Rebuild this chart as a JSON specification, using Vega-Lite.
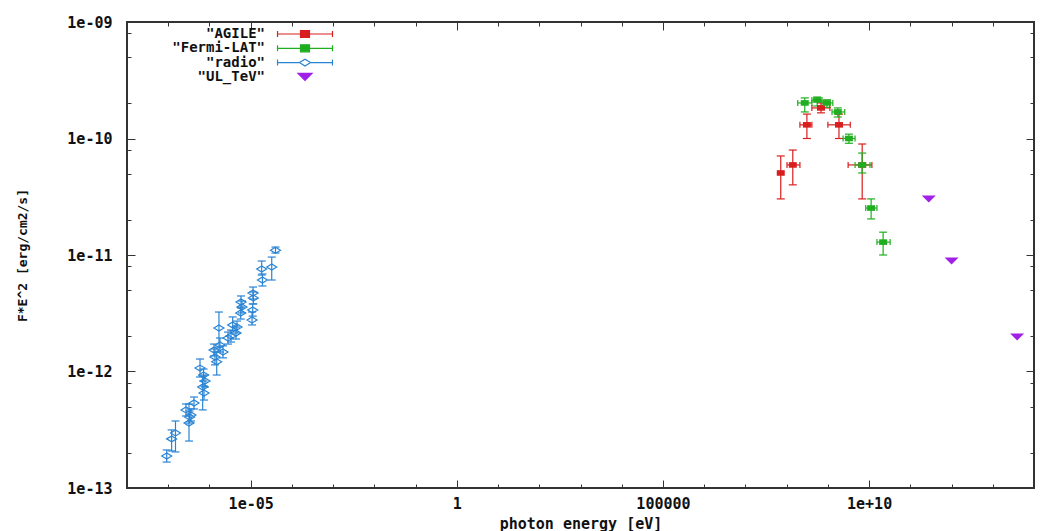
{
  "$schema": "https://vega.github.io/schema/vega-lite/v6.json",
  "width": 907,
  "height": 466,
  "autosize": "none",
  "padding": {"left": 127, "top": 22, "right": 25, "bottom": 43},
  "background": "white",
  "data": {
    "values": [
      {"set": "\"AGILE\"", "E": 7.2e7, "F": 5.06e-11, "Flo": 3.03e-11, "Fhi": 7.08e-11},
      {"set": "\"AGILE\"", "E": 1.41e8, "F": 5.93e-11, "Flo": 4.0e-11, "Fhi": 7.96e-11, "Elo": 1.02e8, "Ehi": 2.1e8},
      {"set": "\"AGILE\"", "E": 3.1e8, "F": 1.31e-10, "Flo": 1.0e-10, "Fhi": 1.62e-10, "Elo": 2.1e8, "Ehi": 4.1e8},
      {"set": "\"AGILE\"", "E": 6.8e8, "F": 1.83e-10, "Flo": 1.66e-10, "Fhi": 2.02e-10, "Elo": 4.1e8, "Ehi": 1.12e9},
      {"set": "\"AGILE\"", "E": 1.86e9, "F": 1.31e-10, "Flo": 1.0e-10, "Fhi": 1.62e-10, "Elo": 1.0e9, "Ehi": 3.5e9},
      {"set": "\"AGILE\"", "E": 6.8e9, "F": 5.93e-11, "Flo": 3.03e-11, "Fhi": 8.97e-11, "Elo": 3.1e9, "Ehi": 1.17e10},
      {"set": "\"Fermi-LAT\"", "E": 2.75e8, "F": 2.02e-10, "Flo": 1.69e-10, "Fhi": 2.23e-10, "Elo": 1.86e8, "Ehi": 4.1e8},
      {"set": "\"Fermi-LAT\"", "E": 5.5e8, "F": 2.14e-10, "Flo": 1.9e-10, "Fhi": 2.27e-10, "Elo": 4.1e8, "Ehi": 7.2e8},
      {"set": "\"Fermi-LAT\"", "E": 9.5e8, "F": 2.02e-10, "Flo": 1.85e-10, "Fhi": 2.15e-10, "Elo": 7.2e8, "Ehi": 1.32e9},
      {"set": "\"Fermi-LAT\"", "E": 1.74e9, "F": 1.69e-10, "Flo": 1.53e-10, "Fhi": 1.83e-10, "Elo": 1.26e9, "Ehi": 2.57e9},
      {"set": "\"Fermi-LAT\"", "E": 3.24e9, "F": 1.0e-10, "Flo": 9.1e-11, "Fhi": 1.09e-10, "Elo": 2.34e9, "Ehi": 4.57e9},
      {"set": "\"Fermi-LAT\"", "E": 6.8e9, "F": 5.93e-11, "Flo": 5.06e-11, "Fhi": 7.5e-11, "Elo": 4.57e9, "Ehi": 1.05e10},
      {"set": "\"Fermi-LAT\"", "E": 1.12e10, "F": 2.53e-11, "Flo": 2.04e-11, "Fhi": 3.03e-11, "Elo": 8.3e9, "Ehi": 1.55e10},
      {"set": "\"Fermi-LAT\"", "E": 2.19e10, "F": 1.29e-11, "Flo": 1.0e-11, "Fhi": 1.57e-11, "Elo": 1.55e10, "Ehi": 3.24e10},
      {"set": "\"radio\"", "E": 9.18e-8, "F": 1.88e-13, "Flo": 1.67e-13, "Fhi": 2.12e-13},
      {"set": "\"radio\"", "E": 1.21e-7, "F": 2.64e-13, "Flo": 2.08e-13, "Fhi": 3.15e-13},
      {"set": "\"radio\"", "E": 1.50e-7, "F": 2.97e-13, "Flo": 2.04e-13, "Fhi": 3.76e-13},
      {"set": "\"radio\"", "E": 2.70e-7, "F": 4.68e-13, "Flo": 4.15e-13, "Fhi": 5.26e-13},
      {"set": "\"radio\"", "E": 3.19e-7, "F": 3.61e-13, "Flo": 2.53e-13, "Fhi": 5.26e-13},
      {"set": "\"radio\"", "E": 3.56e-7, "F": 4.24e-13, "Flo": 3.76e-13, "Fhi": 4.77e-13},
      {"set": "\"radio\"", "E": 4.22e-7, "F": 5.37e-13, "Flo": 4.77e-13, "Fhi": 6.04e-13},
      {"set": "\"radio\"", "E": 3.30e-7, "F": 4.07e-13, "Flo": 3.61e-13, "Fhi": 4.58e-13},
      {"set": "\"radio\"", "E": 5.90e-7, "F": 1.07e-12, "Flo": 8.97e-13, "Fhi": 1.28e-12},
      {"set": "\"radio\"", "E": 6.85e-7, "F": 7.36e-13, "Flo": 4.68e-13, "Fhi": 9.15e-13},
      {"set": "\"radio\"", "E": 7.38e-7, "F": 6.54e-13, "Flo": 5.69e-13, "Fhi": 7.51e-13},
      {"set": "\"radio\"", "E": 7.80e-7, "F": 8.28e-13, "Flo": 7.36e-13, "Fhi": 9.33e-13},
      {"set": "\"radio\"", "E": 7.20e-7, "F": 9.33e-13, "Flo": 8.28e-13, "Fhi": 1.05e-12},
      {"set": "\"radio\"", "E": 1.29e-6, "F": 1.53e-12, "Flo": 1.36e-12, "Fhi": 1.72e-12},
      {"set": "\"radio\"", "E": 1.36e-6, "F": 1.33e-12, "Flo": 1.14e-12, "Fhi": 1.56e-12},
      {"set": "\"radio\"", "E": 1.50e-6, "F": 1.21e-12, "Flo": 9.33e-13, "Fhi": 1.47e-12},
      {"set": "\"radio\"", "E": 1.70e-6, "F": 2.36e-12, "Flo": 1.62e-12, "Fhi": 3.24e-12},
      {"set": "\"radio\"", "E": 1.80e-6, "F": 1.69e-12, "Flo": 1.47e-12, "Fhi": 1.94e-12},
      {"set": "\"radio\"", "E": 2.13e-6, "F": 1.47e-12, "Flo": 1.31e-12, "Fhi": 1.66e-12},
      {"set": "\"radio\"", "E": 2.82e-6, "F": 1.94e-12, "Flo": 1.72e-12, "Fhi": 2.18e-12},
      {"set": "\"radio\"", "E": 3.33e-6, "F": 2.02e-12, "Flo": 1.79e-12, "Fhi": 2.27e-12},
      {"set": "\"radio\"", "E": 3.66e-6, "F": 2.51e-12, "Flo": 2.23e-12, "Fhi": 2.94e-12},
      {"set": "\"radio\"", "E": 4.41e-6, "F": 2.14e-12, "Flo": 1.90e-12, "Fhi": 2.41e-12},
      {"set": "\"radio\"", "E": 4.66e-6, "F": 2.41e-12, "Flo": 2.14e-12, "Fhi": 2.71e-12},
      {"set": "\"radio\"", "E": 5.73e-6, "F": 3.18e-12, "Flo": 2.82e-12, "Fhi": 3.58e-12},
      {"set": "\"radio\"", "E": 5.82e-6, "F": 3.95e-12, "Flo": 3.51e-12, "Fhi": 4.45e-12},
      {"set": "\"radio\"", "E": 6.15e-6, "F": 3.58e-12, "Flo": 3.18e-12, "Fhi": 4.03e-12},
      {"set": "\"radio\"", "E": 1.14e-5, "F": 4.72e-12, "Flo": 4.19e-12, "Fhi": 5.31e-12},
      {"set": "\"radio\"", "E": 1.16e-5, "F": 4.28e-12, "Flo": 3.80e-12, "Fhi": 4.81e-12},
      {"set": "\"radio\"", "E": 1.12e-5, "F": 3.37e-12, "Flo": 2.99e-12, "Fhi": 3.80e-12},
      {"set": "\"radio\"", "E": 1.08e-5, "F": 2.77e-12, "Flo": 2.51e-12, "Fhi": 3.24e-12},
      {"set": "\"radio\"", "E": 1.85e-5, "F": 7.59e-12, "Flo": 6.73e-12, "Fhi": 8.88e-12},
      {"set": "\"radio\"", "E": 1.93e-5, "F": 6.10e-12, "Flo": 5.42e-12, "Fhi": 6.87e-12},
      {"set": "\"radio\"", "E": 3.24e-5, "F": 7.89e-12, "Flo": 6.10e-12, "Fhi": 9.6e-12},
      {"set": "\"radio\"", "E": 4.00e-5, "F": 1.10e-11, "Flo": 1.04e-11, "Fhi": 1.17e-11},
      {"set": "\"UL_TeV\"", "E": 2.8e11, "F": 3.03e-11},
      {"set": "\"UL_TeV\"", "E": 1.0e12, "F": 8.9e-12},
      {"set": "\"UL_TeV\"", "E": 3.9e13, "F": 1.98e-12}
    ]
  },
  "layer": [
    {
      "transform": [{"filter": "datum.Flo != null"}],
      "mark": {"type": "rule", "strokeWidth": 1.2},
      "encoding": {
        "x": {"field": "E", "type": "quantitative", "scale": {"type": "log", "domain": [1e-8, 1e14], "nice": false},
          "axis": {"orient": "bottom", "values": [1e-5, 1, 1e5, 1e10], "labelExpr": "datum.value < 1e-3 ? '1e-05' : datum.value < 10 ? '1' : datum.value < 1e7 ? '100000' : '1e+10'", "ticks": false, "domain": false, "grid": false, "labelPadding": 8, "labelBaseline": "top", "labelFlush": false, "labelOverlap": false, "title": "photon energy [eV]", "titleY": 35, "titleBaseline": "middle"}},
        "y": {"field": "Flo", "type": "quantitative", "scale": {"type": "log", "domain": [1e-13, 1e-9], "nice": false},
          "axis": {"orient": "left", "values": [1e-13, 1e-12, 1e-11, 1e-10, 1e-9], "labelExpr": "datum.value > 5e-10 ? '1e-09' : datum.value > 5e-11 ? '1e-10' : datum.value > 5e-12 ? '1e-11' : datum.value > 5e-13 ? '1e-12' : '1e-13'", "ticks": false, "domain": false, "grid": false, "labelPadding": 15, "labelBaseline": "middle", "labelFlush": false, "labelOverlap": false, "title": "F*E^2 [erg/cm2/s]", "titleX": -105, "titleBaseline": "middle", "titleFontSize": 13}},
        "y2": {"field": "Fhi"},
        "color": {"field": "set", "type": "nominal", "scale": {"domain": ["\"AGILE\"", "\"Fermi-LAT\"", "\"radio\"", "\"UL_TeV\""], "range": ["#d81e1e", "#1fae1f", "#2a84d4", "#a020e8"]}, "legend": null}
      }
    },
    {
      "transform": [{"filter": "datum.Elo != null"}],
      "mark": {"type": "rule", "strokeWidth": 1.2},
      "encoding": {
        "x": {"field": "Elo", "type": "quantitative", "scale": {"type": "log", "domain": [1e-8, 1e14], "nice": false},
          "axis": {"orient": "bottom", "values": [1e-5, 1, 1e5, 1e10], "labels": false, "tickSize": -8, "tickColor": "#333", "domain": false, "grid": false, "title": null}},
        "x2": {"field": "Ehi"},
        "y": {"field": "F", "type": "quantitative", "scale": {"type": "log", "domain": [1e-13, 1e-9], "nice": false},
          "axis": {"orient": "left", "values": [1e-13, 1e-12, 1e-11, 1e-10, 1e-9], "labels": false, "tickSize": -8, "tickColor": "#333", "domain": false, "grid": false, "title": null}},
        "color": {"field": "set", "type": "nominal", "scale": {"domain": ["\"AGILE\"", "\"Fermi-LAT\"", "\"radio\"", "\"UL_TeV\""], "range": ["#d81e1e", "#1fae1f", "#2a84d4", "#a020e8"]}, "legend": null}
      }
    },
    {
      "transform": [{"filter": "datum.Flo != null"}],
      "mark": {"type": "tick", "orient": "horizontal", "size": 8, "thickness": 1.2, "opacity": 1},
      "encoding": {
        "x": {"field": "E", "type": "quantitative", "scale": {"type": "log", "domain": [1e-8, 1e14], "nice": false},
          "axis": {"orient": "bottom", "values": [1e-8, 1e-7, 1e-6, 1e-5, 1e-4, 1e-3, 1e-2, 1e-1, 1, 10, 100, 1e3, 1e4, 1e5, 1e6, 1e7, 1e8, 1e9, 1e10, 1e11, 1e12, 1e13, 1e14], "labels": false, "tickSize": -4, "tickColor": "#333", "domain": false, "grid": false, "title": null}},
        "y": {"field": "Flo", "type": "quantitative", "scale": {"type": "log", "domain": [1e-13, 1e-9], "nice": false},
          "axis": {"orient": "left", "values": [2e-13, 5e-13, 8e-13, 2e-12, 5e-12, 8e-12, 2e-11, 5e-11, 8e-11, 2e-10, 5e-10, 8e-10], "labels": false, "tickSize": -4, "tickColor": "#333", "domain": false, "grid": false, "title": null}},
        "color": {"field": "set", "type": "nominal", "scale": {"domain": ["\"AGILE\"", "\"Fermi-LAT\"", "\"radio\"", "\"UL_TeV\""], "range": ["#d81e1e", "#1fae1f", "#2a84d4", "#a020e8"]}, "legend": null}
      }
    },
    {
      "transform": [{"filter": "datum.Fhi != null"}],
      "mark": {"type": "tick", "orient": "horizontal", "size": 8, "thickness": 1.2, "opacity": 1},
      "encoding": {
        "x": {"field": "E", "type": "quantitative", "scale": {"type": "log", "domain": [1e-8, 1e14], "nice": false},
          "axis": {"orient": "top", "values": [1e-5, 1, 1e5, 1e10], "labels": false, "tickSize": -8, "tickColor": "#333", "domain": false, "grid": false, "title": null}},
        "y": {"field": "Fhi", "type": "quantitative", "scale": {"type": "log", "domain": [1e-13, 1e-9], "nice": false},
          "axis": {"orient": "right", "values": [1e-13, 1e-12, 1e-11, 1e-10, 1e-9], "labels": false, "tickSize": -8, "tickColor": "#333", "domain": false, "grid": false, "title": null}},
        "color": {"field": "set", "type": "nominal", "scale": {"domain": ["\"AGILE\"", "\"Fermi-LAT\"", "\"radio\"", "\"UL_TeV\""], "range": ["#d81e1e", "#1fae1f", "#2a84d4", "#a020e8"]}, "legend": null}
      }
    },
    {
      "transform": [{"filter": "datum.Elo != null"}],
      "mark": {"type": "tick", "orient": "vertical", "size": 6, "thickness": 1.2, "opacity": 1},
      "encoding": {
        "x": {"field": "Elo", "type": "quantitative", "scale": {"type": "log", "domain": [1e-8, 1e14], "nice": false},
          "axis": {"orient": "top", "values": [1e-8, 1e-7, 1e-6, 1e-5, 1e-4, 1e-3, 1e-2, 1e-1, 1, 10, 100, 1e3, 1e4, 1e5, 1e6, 1e7, 1e8, 1e9, 1e10, 1e11, 1e12, 1e13, 1e14], "labels": false, "tickSize": -4, "tickColor": "#333", "domain": false, "grid": false, "title": null}},
        "y": {"field": "F", "type": "quantitative", "scale": {"type": "log", "domain": [1e-13, 1e-9], "nice": false},
          "axis": {"orient": "right", "values": [2e-13, 5e-13, 8e-13, 2e-12, 5e-12, 8e-12, 2e-11, 5e-11, 8e-11, 2e-10, 5e-10, 8e-10], "labels": false, "tickSize": -4, "tickColor": "#333", "domain": false, "grid": false, "title": null}},
        "color": {"field": "set", "type": "nominal", "scale": {"domain": ["\"AGILE\"", "\"Fermi-LAT\"", "\"radio\"", "\"UL_TeV\""], "range": ["#d81e1e", "#1fae1f", "#2a84d4", "#a020e8"]}, "legend": null}
      }
    },
    {
      "transform": [{"filter": "datum.Ehi != null"}],
      "mark": {"type": "tick", "orient": "vertical", "size": 6, "thickness": 1.2, "opacity": 1},
      "encoding": {
        "x": {"field": "Ehi", "type": "quantitative", "scale": {"type": "log", "domain": [1e-8, 1e14], "nice": false}, "axis": null},
        "y": {"field": "F", "type": "quantitative", "scale": {"type": "log", "domain": [1e-13, 1e-9], "nice": false}, "axis": null},
        "color": {"field": "set", "type": "nominal", "scale": {"domain": ["\"AGILE\"", "\"Fermi-LAT\"", "\"radio\"", "\"UL_TeV\""], "range": ["#d81e1e", "#1fae1f", "#2a84d4", "#a020e8"]}, "legend": null}
      }
    },
    {
      "transform": [{"filter": "datum.set == '\"radio\"'"}],
      "mark": {"type": "point", "shape": "M-1,0L0,-0.6L1,0L0,0.6Z", "size": 100, "filled": false, "strokeWidth": 1.2, "opacity": 1},
      "encoding": {
        "x": {"field": "E", "type": "quantitative", "scale": {"type": "log", "domain": [1e-8, 1e14], "nice": false}, "axis": null},
        "y": {"field": "F", "type": "quantitative", "scale": {"type": "log", "domain": [1e-13, 1e-9], "nice": false}, "axis": null},
        "color": {"field": "set", "type": "nominal", "scale": {"domain": ["\"AGILE\"", "\"Fermi-LAT\"", "\"radio\"", "\"UL_TeV\""], "range": ["#d81e1e", "#1fae1f", "#2a84d4", "#a020e8"]}, "legend": null}
      }
    },
    {
      "transform": [{"filter": "datum.set == '\"AGILE\"' || datum.set == '\"Fermi-LAT\"'"}],
      "mark": {"type": "point", "shape": "M-1,-0.7H1V0.7H-1Z", "size": 64, "filled": true, "opacity": 1},
      "encoding": {
        "x": {"field": "E", "type": "quantitative", "scale": {"type": "log", "domain": [1e-8, 1e14], "nice": false}, "axis": null},
        "y": {"field": "F", "type": "quantitative", "scale": {"type": "log", "domain": [1e-13, 1e-9], "nice": false}, "axis": null},
        "color": {"field": "set", "type": "nominal", "scale": {"domain": ["\"AGILE\"", "\"Fermi-LAT\"", "\"radio\"", "\"UL_TeV\""], "range": ["#d81e1e", "#1fae1f", "#2a84d4", "#a020e8"]},
          "legend": {"orient": "none", "legendX": 171, "legendY": 5, "title": null, "symbolSize": 144, "labelAlign": "right", "labelOffset": -47, "labelFont": "DejaVu Sans Mono", "labelFontWeight": "bold", "labelFontSize": 14, "labelColor": "#111", "rowPadding": 0.3, "padding": 0, "symbolOpacity": 1, "symbolStrokeWidth": 1.2,
            "encode": {"symbols": {"update": {
              "shape": {"signal": "indexof(datum.value, 'UL') >= 0 ? 'M-1.17,-0.58H1.17L0,0.58Z' : indexof(datum.value, 'radio') >= 0 ? 'M-4.58,0H-0.93M0.93,0H4.58M-4.58,-0.5V0.5M4.58,-0.5V0.5M-0.93,0L0,-0.58L0.93,0L0,0.58Z' : 'M-4.58,0H4.58M-4.58,-0.5V0.5M4.58,-0.5V0.5M-0.75,-0.58H0.75V0.58H-0.75Z'"},
              "fill": {"signal": "indexof(datum.value, 'radio') >= 0 ? 'white' : scale('color', datum.value)"},
              "fillOpacity": {"signal": "indexof(datum.value, 'radio') >= 0 ? 0 : 1"},
              "stroke": {"signal": "scale('color', datum.value)"},
              "strokeWidth": {"value": 1.2},
              "opacity": {"value": 1}
            }}}}}
      }
    },
    {
      "transform": [{"filter": "datum.set == '\"UL_TeV\"'"}],
      "mark": {"type": "point", "shape": "M-1,-0.5H1L0,0.5Z", "size": 196, "filled": true, "opacity": 1},
      "encoding": {
        "x": {"field": "E", "type": "quantitative", "scale": {"type": "log", "domain": [1e-8, 1e14], "nice": false}, "axis": null},
        "y": {"field": "F", "type": "quantitative", "scale": {"type": "log", "domain": [1e-13, 1e-9], "nice": false}, "axis": null},
        "color": {"field": "set", "type": "nominal", "scale": {"domain": ["\"AGILE\"", "\"Fermi-LAT\"", "\"radio\"", "\"UL_TeV\""], "range": ["#d81e1e", "#1fae1f", "#2a84d4", "#a020e8"]}, "legend": null}
      }
    }
  ],
  "resolve": {"axis": {"x": "independent", "y": "independent"}, "legend": {"color": "independent"}},
  "config": {
    "view": {"stroke": "#333", "strokeWidth": 2},
    "axis": {"labelFont": "DejaVu Sans Mono", "labelFontWeight": "bold", "labelFontSize": 15, "labelColor": "#111", "titleFont": "DejaVu Sans Mono", "titleFontWeight": "bold", "titleFontSize": 15, "titleColor": "#111", "tickWidth": 1}
  }
}
